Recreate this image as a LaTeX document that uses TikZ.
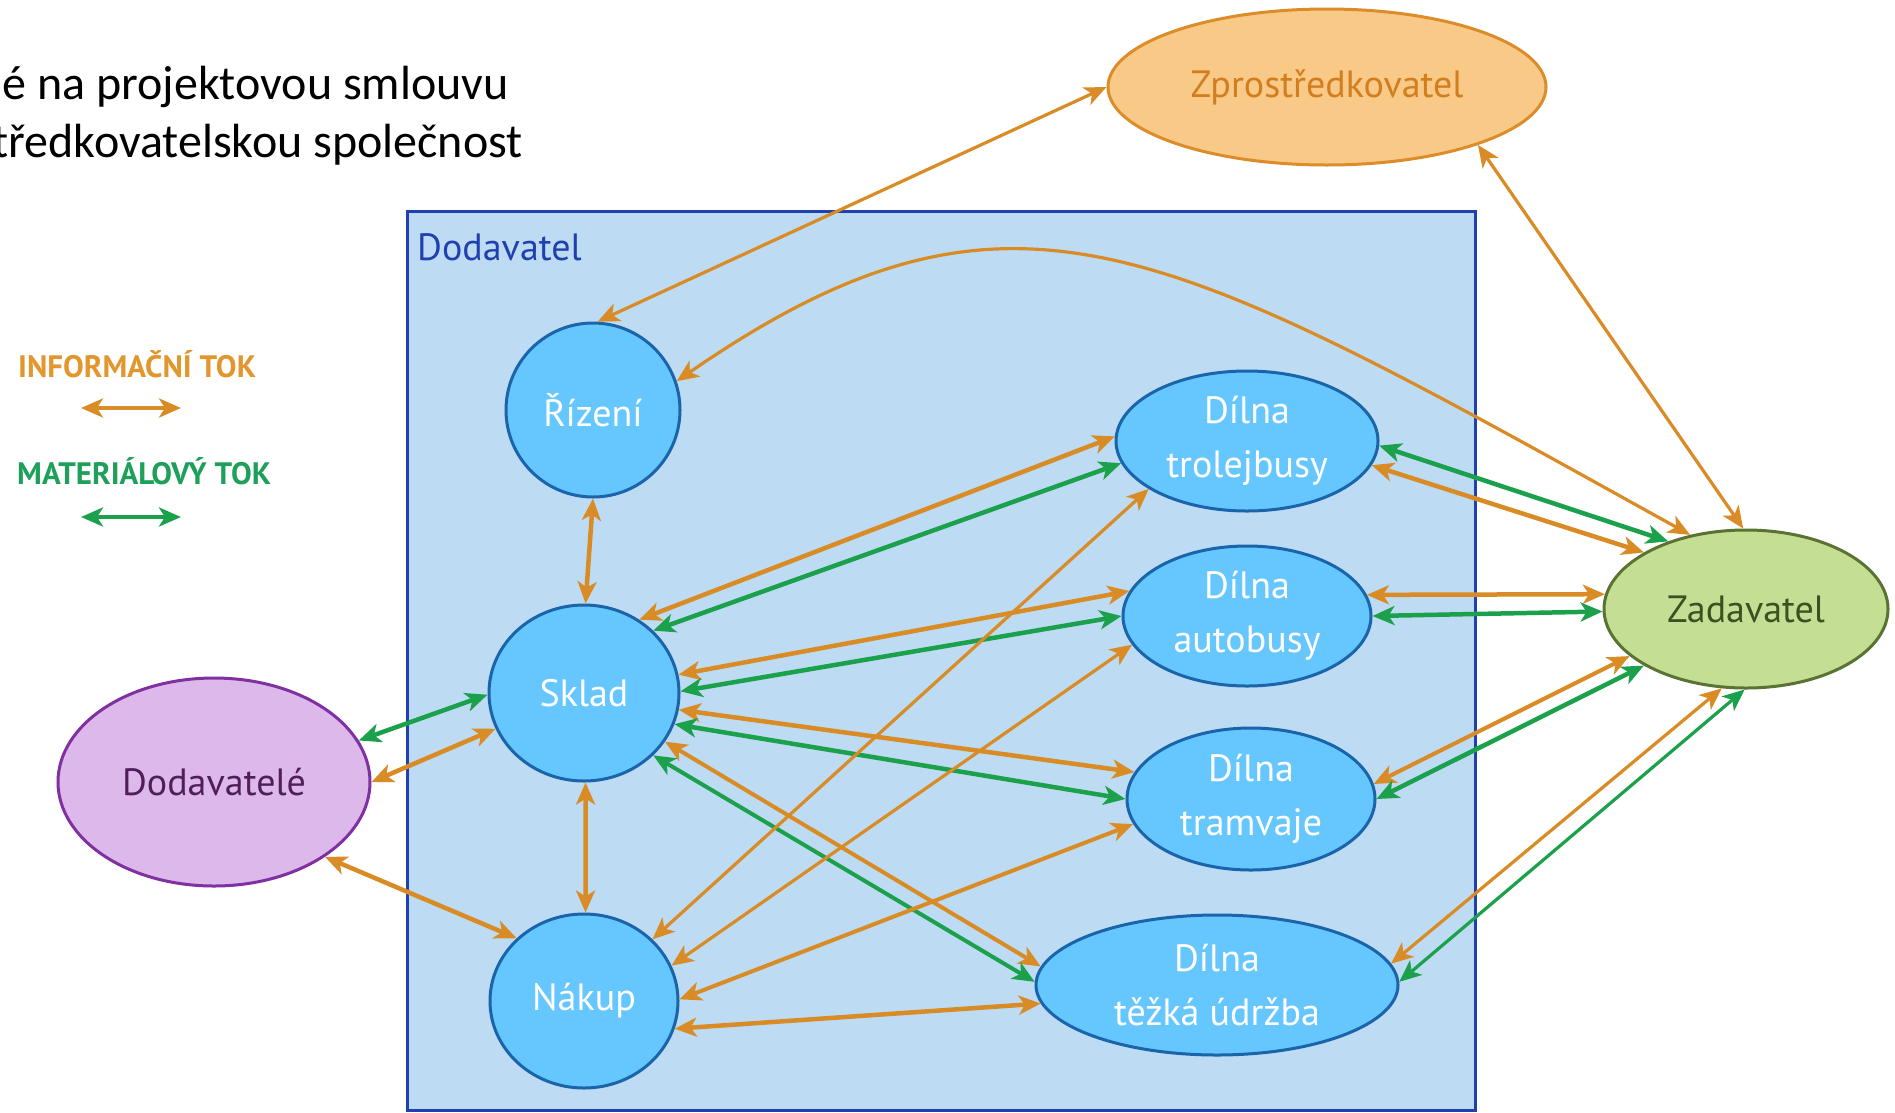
\documentclass[tikz,border=0pt]{standalone}
\usepackage{fontspec}
\setmainfont{PT Sans}
\newfontfamily\calibri{Carlito}
\usetikzlibrary{shapes.geometric,arrows.meta}
\definecolor{infoor}{RGB}{217,140,37}
\definecolor{matgr}{RGB}{27,160,75}
\definecolor{legor}{RGB}{226,150,45}
\definecolor{leggr}{RGB}{30,160,90}
\definecolor{boxfill}{RGB}{189,219,242}
\definecolor{boxline}{RGB}{32,64,176}
\definecolor{nodefill}{RGB}{102,199,255}
\definecolor{nodeline}{RGB}{25,100,170}
\definecolor{dodfill}{RGB}{221,184,234}
\definecolor{dodline}{RGB}{128,48,160}
\definecolor{dodtext}{RGB}{80,30,90}
\definecolor{zprfill}{RGB}{249,201,136}
\definecolor{zprline}{RGB}{220,140,40}
\definecolor{zprtext}{RGB}{210,125,30}
\definecolor{zadfill}{RGB}{196,223,148}
\definecolor{zadline}{RGB}{90,115,50}
\definecolor{zadtext}{RGB}{60,80,35}
\tikzset{
  unit/.style={ellipse, line width=3pt, inner sep=0pt, align=center, font=\fontsize{38}{54}\selectfont},
  inner/.style={unit, draw=nodeline, fill=nodefill, text=white},
  info/.style={draw=infoor, line width=4.5pt, {Stealth[length=22pt,width=19pt,inset=6pt]}-{Stealth[length=22pt,width=19pt,inset=6pt]}},
  mat/.style={draw=matgr, line width=4.5pt, {Stealth[length=22pt,width=19pt,inset=6pt]}-{Stealth[length=22pt,width=19pt,inset=6pt]}},
  thinline/.style={line width=3.2pt},
}
\begin{document}
\begin{tikzpicture}[x=1pt,y=-1pt]
\useasboundingbox (0,0) rectangle (1895,1112);
\fill[white] (0,0) rectangle (1895,1112);
% supplier box
\draw[boxline, fill=boxfill, line width=3pt] (407,211) rectangle (1475,1110);
\node[anchor=base west, inner sep=0pt, text=boxline, font=\fontsize{38}{44}\selectfont] (boxlabel) at (417,260) {Dodavatel};
% top-left text
\node[anchor=base east, inner sep=0pt, font=\calibri\fontsize{48}{58}\selectfont] (txa) at (509,99) {é na projektovou smlouvu};
\node[anchor=base east, inner sep=0pt, font=\calibri\fontsize{48}{58}\selectfont] (txb) at (523,157) {tředkovatelskou společnost};
% legend
\node[anchor=base west, inner sep=0pt, text=legor, font=\bfseries\fontsize{31}{36}\selectfont] (leg1) at (18,377) {INFORMAČNÍ TOK};
\node[anchor=base west, inner sep=0pt, text=leggr, font=\bfseries\fontsize{31}{36}\selectfont] (leg2) at (17,484) {MATERIÁLOVÝ TOK};
\coordinate (la1) at (81,408);
\coordinate (lb1) at (181,408);
\coordinate (la2) at (81,517);
\coordinate (lb2) at (181,517);
\draw[info] (la1) -- (lb1);
\draw[mat] (la2) -- (lb2);
% nodes
\node[inner, minimum width=174pt, minimum height=174pt] (R) at (593,410) {Řízení};
\node[inner, minimum width=190pt, minimum height=176pt] (S) at (584,693) {Sklad};
\node[inner, minimum width=188pt, minimum height=174pt] (N) at (584,1001) {Nákup};
\node[unit, draw=dodline, fill=dodfill, text=dodtext, minimum width=312pt, minimum height=208pt] (D) at (214,782) {Dodavatelé};
\node[unit, draw=zprline, fill=zprfill, text=zprtext, minimum width=438pt, minimum height=156pt] (Z) at (1327,87) {Zprostředkovatel};
\node[unit, draw=zadline, fill=zadfill, text=zadtext, minimum width=284pt, minimum height=158pt] (A) at (1746,609) {Zadavatel};
\node[inner, minimum width=262pt, minimum height=140pt] (T1) at (1247,441) {Dílna\\trolejbusy};
\node[inner, minimum width=248pt, minimum height=140pt] (T2) at (1247,616) {Dílna\\autobusy};
\node[inner, minimum width=248pt, minimum height=142pt] (T3) at (1251,799) {Dílna\\tramvaje};
\node[inner, minimum width=362pt, minimum height=140pt] (T4) at (1217,985) {Dílna\\těžká údržba};
% connectors
\draw[info, thinline] (Z.180) -- (R.87);
\draw[info, thinline] (R.19) .. controls (1013,149) and (1165,244) .. (A.127);
\draw[info, thinline] (Z.-21) -- (A.92);
\draw[info] (R.270) -- (S.89);
\draw[info] (S.271) -- (N.89);
\draw[info] (D.0) -- (S.202);
\draw[info] (D.326) -- (N.137);
\draw[mat] (D.16) -- (S.181);
\draw[info] (S.53) -- (T1.178);
\draw[mat] (S.42) -- (T1.190);
\draw[info] (S.11) -- (T2.168);
\draw[mat] (S.1) -- (T2.180);
\draw[info] (S.350) -- (T3.167);
\draw[mat] (S.341) -- (T3.180);
\draw[info, line width=4pt] (S.329) -- (T4.174);
\draw[mat, line width=4pt] (S.318) -- (T4.179);
\draw[info, thinline] (N.42) -- (T1.206);
\draw[info, thinline] (N.22) -- (T2.194);
\draw[info, line width=4pt] (N.1) -- (T3.192);
\draw[info] (N.343) -- (T4.186);
\draw[info] (T1.349) -- (A.151);
\draw[mat] (T1.358) -- (A.139);
\draw[info] (T2.10) -- (A.174);
\draw[mat] (T2.0) -- (A.181);
\draw[info, line width=4pt] (T3.7) -- (A.202);
\draw[mat] (T3.0) -- (A.209);
\draw[info, thinline] (T4.7) -- (A.253);
\draw[mat, thinline] (T4.1) -- (A.269);
\end{tikzpicture}
\end{document}
